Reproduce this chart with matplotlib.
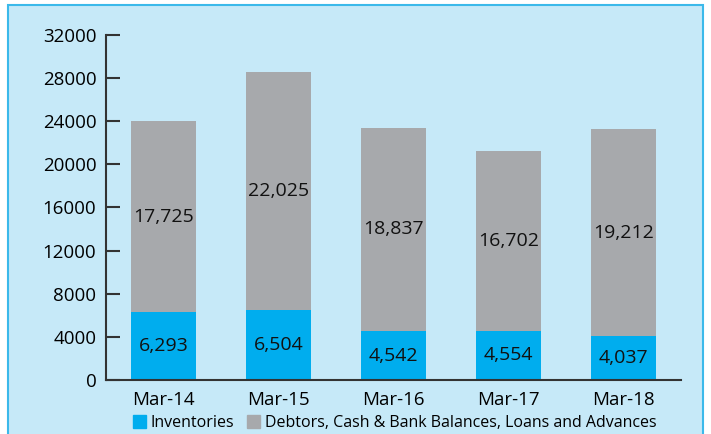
import matplotlib.pyplot as plt
from matplotlib.patches import Rectangle, Patch

periods = ["Mar-14", "Mar-15", "Mar-16", "Mar-17", "Mar-18"]
inventories = [6293, 6504, 4542, 4554, 4037]
debtors = [17725, 22025, 18837, 16702, 19212]
y_ticks = [0, 4000, 8000, 12000, 16000, 20000, 24000, 28000, 32000]

blue = "#00adee"
gray = "#a7a9ac"
bg = "#c6e9f8"

plt.rcParams['font.family'] = ['Open Sans', 'DejaVu Sans']

fig = plt.figure(figsize=(7.11, 4.34), dpi=100)
fig.patch.set_facecolor("white")
# light blue panel with a cyan border, behind the axes
fig.patches.append(Rectangle((8 / 711, -0.02), 695 / 711, 1.02 - 5 / 434,
                             transform=fig.transFigure, facecolor=bg,
                             edgecolor="#3bb9ea", linewidth=1.5, zorder=-10))

ax = fig.add_axes([106 / 711, 1 - 380 / 434, 575 / 711, 345 / 434])
ax.set_facecolor("none")

x = range(len(periods))
ax.bar(x, inventories, width=0.565, color=blue, zorder=2)
ax.bar(x, debtors, width=0.565, bottom=inventories, color=gray, zorder=2)

for i in x:
    ax.text(i, inventories[i] / 2, f"{inventories[i]:,}", ha="center", va="center",
            fontsize=14, color="#111111", zorder=3)
    ax.text(i, inventories[i] + debtors[i] / 2, f"{debtors[i]:,}", ha="center",
            va="center", fontsize=14, color="#111111", zorder=3)

ax.set_xlim(-0.5, 4.5)
ax.set_ylim(0, 32000)
ax.set_yticks(y_ticks)
ax.set_yticklabels([str(v) for v in y_ticks])
ax.set_xticks(list(x))
ax.set_xticklabels(periods)

for s in ["top", "right"]:
    ax.spines[s].set_visible(False)
ax.spines["left"].set_color("#333333")
ax.spines["bottom"].set_color("#333333")
ax.spines["left"].set_linewidth(1.5)
ax.spines["bottom"].set_linewidth(1.5)
ax.tick_params(axis="y", direction="in", length=10, width=1.5, color="#333333",
               labelsize=13.5, pad=7)
ax.tick_params(axis="x", length=0, labelsize=13.5, pad=8)

fig.legend([Patch(color=blue), Patch(color=gray)],
           ["Inventories", "Debtors, Cash & Bank Balances, Loans and Advances"],
           loc="center", bbox_to_anchor=(395 / 711, 1 - 423 / 434), ncol=2,
           frameon=False, fontsize=11.5, handlelength=0.8, handleheight=0.8,
           handletextpad=0.3, columnspacing=0.8)

fig.savefig("out.png", dpi=100)
